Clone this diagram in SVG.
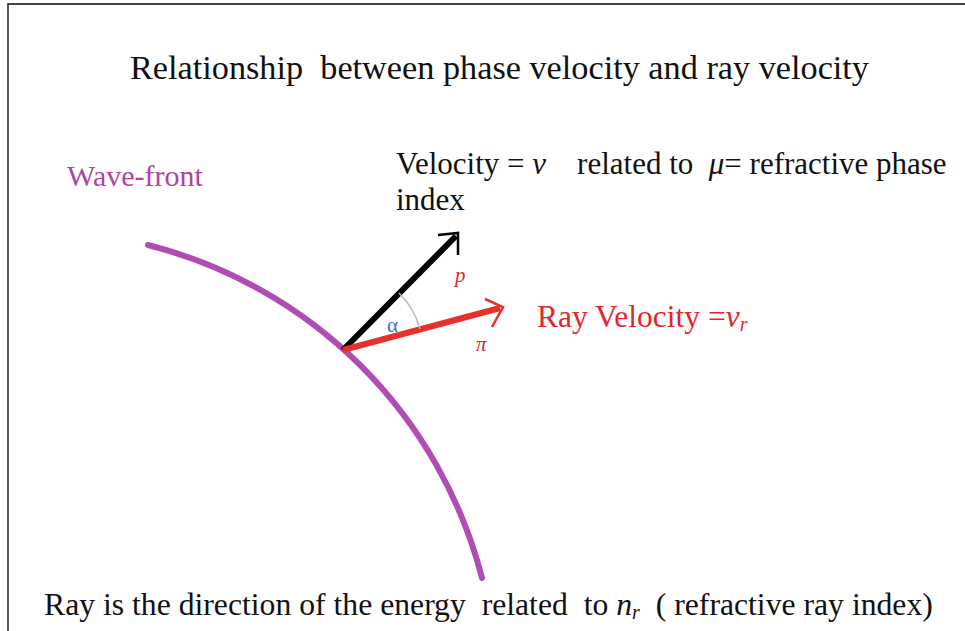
<svg xmlns="http://www.w3.org/2000/svg" width="965" height="631" viewBox="0 0 965 631">
<style>
text{font-family:"Liberation Serif","Times New Roman",serif;fill:#111}
.it{font-style:italic}
.red{fill:#e3262a}
</style>
<rect x="0" y="0" width="965" height="631" fill="#ffffff"/>
<path d="M8,631 V4 H965" fill="none" stroke="#444" stroke-width="1.8"/>
<text x="130" y="79" font-size="34" textLength="739" lengthAdjust="spacingAndGlyphs" xml:space="preserve">Relationship  between phase velocity and ray velocity</text>
<g id="wavefront">
<path d="M148,245 A462,462 0 0 1 482,578" fill="none" stroke="#b04db3" stroke-width="6" stroke-linecap="round"/>
<text x="67" y="186" font-size="30" style="fill:#b0449f">Wave-front</text>
</g>
<g id="connectors">
<line x1="343" y1="350" x2="456" y2="236" stroke="#000" stroke-width="6"/>
<polyline points="438,235 458,233 458,255" fill="none" stroke="#000" stroke-width="2.5"/>
<line x1="343" y1="350" x2="500" y2="308" stroke="#e8302a" stroke-width="6"/>
<polyline points="485,299 503,307 492,327" fill="none" stroke="#e8302a" stroke-width="2.5"/>
<path d="M399,293 A80,80 0 0 1 420,329" fill="none" stroke="#bbb" stroke-width="1.5"/>
</g>
<g id="labels">
<text x="387" y="332" font-size="21" style="fill:#3b6fc4">α</text>
<text x="455" y="282" font-size="21" class="it red">p</text>
<text x="476" y="351" font-size="21" class="it red">π</text>
</g>
<g id="phase-velocity">
<text x="396" y="174" font-size="31" xml:space="preserve">Velocity = <tspan class="it">v</tspan>    related to  <tspan class="it">μ</tspan>= refractive phase</text>
<text x="396" y="210" font-size="31">index</text>
</g>
<g id="ray-velocity">
<text x="537" y="327" font-size="31.5" class="red">Ray Velocity =<tspan class="it">v</tspan><tspan class="it" font-size="20" dy="4">r</tspan></text>
</g>
<g id="footer">
<text x="44" y="615" font-size="31.7" xml:space="preserve">Ray is the direction of the energy  related  to <tspan class="it">n</tspan><tspan class="it" font-size="20" dy="4">r</tspan><tspan dy="-4">  ( refractive ray index)</tspan></text>
</g>
</svg>
